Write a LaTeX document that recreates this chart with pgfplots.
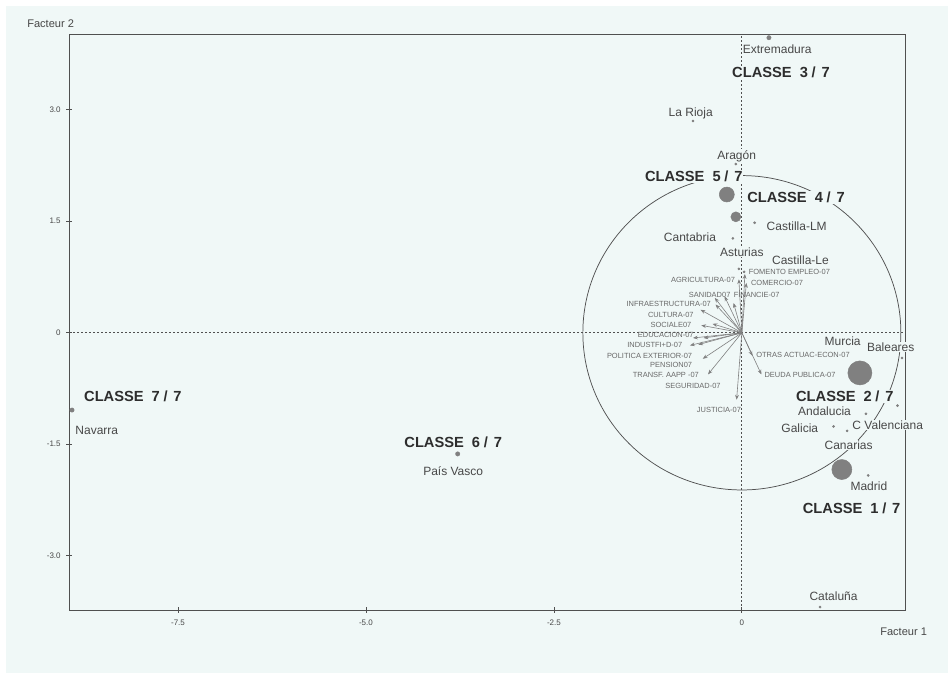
\documentclass[border=0pt]{standalone}
\usepackage{pgfplots}
\pgfplotsset{compat=1.18}
\usepackage{pgfplotstable}
\usepackage{fontspec}
\setmainfont{Liberation Sans}
\usetikzlibrary{arrows.meta}
\definecolor{bg}{RGB}{240,248,247}
\definecolor{dotc}{RGB}{128,128,128}
\definecolor{regc}{RGB}{72,72,72}
\definecolor{clsc}{RGB}{45,45,45}
\definecolor{varc}{RGB}{105,105,105}
\definecolor{linec}{RGB}{80,80,80}
\tikzset{
  lab/.style={font=\fontsize{9}{10}\selectfont, text=regc, fill=bg, inner sep=0.6pt},
  cls/.style={font=\fontsize{11}{12}\bfseries\selectfont, text=clsc, fill=bg, inner sep=0.6pt},
  varlab/.style={font=\fontsize{5.6}{6}\selectfont, text=varc, inner sep=0.5pt},
}

\pgfplotstableread{
x y
-0.65 2.85
-0.08 2.27
0.17 1.48
-0.12 1.27
-0.04 0.86
0.03 0.82
1.55 -0.45
2.13 -0.34
2.07 -0.98
1.65 -1.09
1.22 -1.26
1.40 -1.32
1.68 -1.92
1.04 -3.69
}\regions

\pgfplotstableread{
x y
0.36 3.97
-8.91 -1.04
-3.78 -1.63
}\singles

\pgfplotstableread{
x y u v
0 0 0.04 0.79
0 0 0.06 0.67
0 0 -0.04 0.72
0 0 -0.36 0.47
0 0 -0.23 0.49
0 0 -0.11 0.40
0 0 -0.35 0.38
0 0 -0.55 0.31
0 0 -0.54 0.10
0 0 -0.39 0.12
0 0 -0.65 -0.07
0 0 -0.51 -0.07
0 0 -0.69 -0.17
0 0 -0.58 -0.16
0 0 -0.52 -0.35
0 0 -0.45 -0.56
0 0 -0.07 -0.90
0 0 0.14 -0.31
0 0 0.26 -0.56
}\vars

\begin{document}
\begin{tikzpicture}
\useasboundingbox (0,0) rectangle (711pt,504.75pt);
\fill[white] (0,0) rectangle (711pt,504.75pt);
\fill[bg] (4.5pt,0) rectangle (711pt,500.25pt);
\node[anchor=west, font=\fontsize{8.3}{10}\selectfont, text=regc, inner sep=0pt] at (20.25pt,486.75pt) {Facteur 2};
\node[anchor=west, font=\fontsize{8.3}{10}\selectfont, text=regc, inner sep=0pt] at (660pt,30.75pt) {Facteur 1};
\begin{axis}[
  at={(51.75pt,47.25pt)}, anchor=south west,
  scale only axis, width=627pt, height=432pt,
  xmin=-8.95, xmax=2.17, ymin=-3.73, ymax=4.02,
  clip=false,
  axis line style={draw=linec, line width=0.7pt},
  xtick={-7.5,-5,-2.5,0}, xticklabels={-7.5,-5.0,-2.5,0},
  ytick={-3,-1.5,0,1.5,3}, yticklabels={-3.0,-1.5,0,1.5,3.0},
  xtick pos=lower, ytick pos=left,
  tick align=center, major tick length=4.5pt,
  tick style={draw=linec, line width=0.6pt},
  /pgf/number format/assume math mode=true,
  ticklabel style={font=\fontsize{6}{7}\selectfont, text=regc},
  xticklabel style={yshift=-2pt},
  yticklabel style={xshift=-0.5pt},
]
% correlation circle
\draw[linec, line width=0.55pt] (axis cs:0,0) ellipse [x radius=2.115, y radius=2.115];
% zero lines
\draw[linec, line width=0.55pt, dash pattern=on 1.6pt off 1.4pt] (axis cs:0,-3.73) -- (axis cs:0,4.02);
\draw[linec, line width=0.55pt, dash pattern=on 1.6pt off 1.4pt] (axis cs:-8.95,0) -- (axis cs:2.17,0);
% variable arrows
\addplot[draw=black!50, line width=0.45pt, -{Stealth[length=3.6pt,width=2.8pt]},
  quiver={u=\thisrow{u}, v=\thisrow{v}}] table[x=x,y=y] {\vars};
% variable labels
\node[varlab, anchor=west] at (axis cs:0.08,0.82) {FOMENTO EMPLEO-07};
\node[varlab, anchor=west] at (axis cs:0.11,0.67) {COMERCIO-07};
\node[varlab, anchor=east] at (axis cs:-0.08,0.71) {AGRICULTURA-07};
\node[varlab, anchor=east] at (axis cs:-0.14,0.51) {SANIDAD07};
\node[varlab, anchor=west] at (axis cs:-0.12,0.51) {FINANCIE-07};
\node[varlab, anchor=east] at (axis cs:-0.40,0.39) {INFRAESTRUCTURA-07};
\node[varlab, anchor=east] at (axis cs:-0.63,0.24) {CULTURA-07};
\node[varlab, anchor=east] at (axis cs:-0.66,0.10) {SOCIALE07};
\node[varlab, anchor=east] at (axis cs:-0.63,-0.03) {EDUCACION-07};
\node[varlab, anchor=east] at (axis cs:-0.78,-0.16) {INDUSTFI+D-07};
\node[varlab, anchor=east] at (axis cs:-0.65,-0.31) {POLITICA EXTERIOR-07};
\node[varlab, anchor=east] at (axis cs:-0.65,-0.43) {PENSION07};
\node[varlab, anchor=east] at (axis cs:-0.56,-0.57) {TRANSF. AAPP -07};
\node[varlab, anchor=east] at (axis cs:-0.27,-0.72) {SEGURIDAD-07};
\node[varlab, anchor=east] at (axis cs:0.0,-1.04) {JUSTICIA-07};
\node[varlab, anchor=west] at (axis cs:0.18,-0.30) {OTRAS ACTUAC-ECON-07};
\node[varlab, anchor=west] at (axis cs:0.29,-0.57) {DEUDA PUBLICA-07};
% region labels
\node[lab] at (axis cs:0.47,3.81) {Extremadura};
\node[lab] at (axis cs:-0.68,2.95) {La Rioja};
\node[lab] at (axis cs:-0.07,2.38) {Aragón};
\node[lab] at (axis cs:0.73,1.44) {Castilla-LM};
\node[lab] at (axis cs:-0.69,1.28) {Cantabria};
\node[lab] at (axis cs:0.00,1.09) {Asturias};
\node[lab] at (axis cs:0.78,0.98) {Castilla-Le};
\node[lab] at (axis cs:1.34,-0.11) {Murcia};
\node[lab] at (axis cs:1.98,-0.19) {Baleares};
\node[lab] at (axis cs:1.10,-1.06) {Andalucia};
\node[lab] at (axis cs:1.94,-1.24) {C Valenciana};
\node[lab] at (axis cs:0.77,-1.29) {Galicia};
\node[lab] at (axis cs:1.42,-1.51) {Canarias};
\node[lab] at (axis cs:1.69,-2.07) {Madrid};
\node[lab] at (axis cs:1.22,-3.55) {Cataluña};
\node[lab] at (axis cs:-8.58,-1.31) {Navarra};
\node[lab] at (axis cs:-3.84,-1.86) {País Vasco};
% class labels
\node[cls] at (axis cs:0.52,3.50) {CLASSE\hspace{0.55em}3\hspace{0.25em}/\hspace{0.4em}7};
\node[cls] at (axis cs:-0.64,2.10) {CLASSE\hspace{0.55em}5\hspace{0.25em}/\hspace{0.4em}7};
\node[cls] at (axis cs:0.72,1.82) {CLASSE\hspace{0.55em}4\hspace{0.25em}/\hspace{0.4em}7};
\node[cls] at (axis cs:1.37,-0.86) {CLASSE\hspace{0.55em}2\hspace{0.25em}/\hspace{0.4em}7};
\node[cls] at (axis cs:1.46,-2.36) {CLASSE\hspace{0.55em}1\hspace{0.25em}/\hspace{0.4em}7};
\node[cls] at (axis cs:-8.10,-0.86) {CLASSE\hspace{0.55em}7\hspace{0.25em}/\hspace{0.4em}7};
\node[cls] at (axis cs:-3.84,-1.48) {CLASSE\hspace{0.55em}6\hspace{0.25em}/\hspace{0.4em}7};
% points
\addplot[only marks, mark=*, mark size=0.8pt, color=dotc] table[x=x,y=y] {\regions};
\addplot[only marks, mark=*, mark size=1.6pt, color=dotc] table[x=x,y=y] {\singles};
\addplot[only marks, mark=*, mark size=5.6pt, color=dotc] coordinates {(-0.20,1.86)};
\addplot[only marks, mark=*, mark size=3.75pt, color=dotc] coordinates {(-0.08,1.56)};
\addplot[only marks, mark=*, mark size=9pt, color=dotc] coordinates {(1.57,-0.54)};
\addplot[only marks, mark=*, mark size=7.5pt, color=dotc] coordinates {(1.33,-1.84)};
\end{axis}
\end{tikzpicture}
\end{document}
